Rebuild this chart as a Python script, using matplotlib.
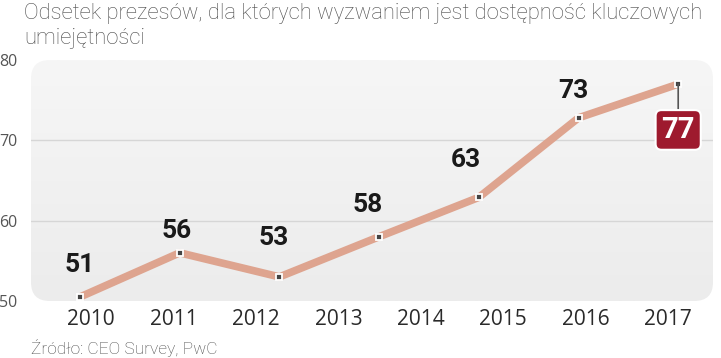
import numpy as np
import matplotlib
matplotlib.use("Agg")
import matplotlib.pyplot as plt
from matplotlib.patches import FancyBboxPatch

# data
years = ["2010", "2011", "2012", "2013", "2014", "2015", "2016", "2017"]
values = [50.5, 56, 53, 58, 62.9, 72.8, 77]
labels = ["51", "56", "53", "58", "63", "73", "77"]
yticks = [50, 60, 70, 80]

title = "Odsetek prezesów, dla których wyzwaniem jest dostępność kluczowych\numiejętności"
source = "Źródło: CEO Survey, PwC"

# label offsets above the points (points)
label_off = [(0, 23), (-2, 16), (-4, 28), (-8, 23), (-9, 27), (-4, 19)]

W, H = 721, 358
fig = plt.figure(figsize=(W / 100, H / 100), dpi=100)
fig.patch.set_facecolor("white")
ax = fig.add_axes([31 / W, 1 - 301 / H, 682 / W, 241 / H])
ax.set_facecolor("none")
x = np.arange(len(values))
ax.set_xlim((31 - 80) / 99.7, (713 - 80) / 99.7)
ax.set_ylim(50, 80)

# rounded gray panel with soft gradient
panel = FancyBboxPatch((31 / W, 1 - 301 / H), 682 / W, 241 / H,
                       boxstyle="round,pad=0,rounding_size=0.026",
                       mutation_aspect=W / H, transform=fig.transFigure,
                       facecolor="none", edgecolor="none", zorder=0)
fig.patches.append(panel)
grad = np.linspace(0, 1, 100).reshape(-1, 1)
im = ax.imshow(grad, cmap=matplotlib.colors.LinearSegmentedColormap.from_list(
    "g", ["#ececec", "#f6f6f6"]), aspect="auto", origin="lower",
    extent=[*ax.get_xlim(), 50, 80], zorder=0)
im.set_clip_path(panel)

for gy in [60, 70]:
    ax.axhline(gy, color="#d6d6d6", lw=1, zorder=1)

for s in ax.spines.values():
    s.set_visible(False)

ax.plot(x, values, color="#dea48f", lw=5.5, solid_capstyle="butt", zorder=3)
ax.plot(x, values, ls="none", marker="s", ms=5, mfc="#444444",
        mec="white", mew=1.3, zorder=4)

vfont = dict(family="Roboto", weight="bold")
for i in range(len(values) - 1):
    ax.annotate(labels[i], (x[i], values[i]), xytext=label_off[i],
                textcoords="offset points", ha="center", va="center",
                fontsize=19, color="#1a1a1a", zorder=5, **vfont)

# highlighted last value
last = len(values) - 1
ax.annotate(labels[last], (x[last], values[last]), xytext=(0, -33),
            textcoords="offset points", ha="center", va="center",
            fontsize=21, color="white", zorder=6,
            bbox=dict(boxstyle="round,pad=0.2,rounding_size=0.2",
                      fc="#9e1a2e", ec="white", lw=1.5),
            arrowprops=dict(arrowstyle="-", color="#555555", lw=1.2,
                            shrinkA=0, shrinkB=0), **vfont)

ax.set_xticks(np.linspace(0.11, 5.9, len(years)))
ax.set_xticklabels(years, fontsize=15, color="#2a2a2a", family="Open Sans")
ax.set_yticks(yticks)
ax.set_yticklabels([str(v) for v in yticks], fontsize=11.5, color="#555555",
                   family="Open Sans")
ax.tick_params(axis="x", length=0, pad=6)
ax.tick_params(axis="y", length=0, pad=10)

fig.text(24 / W, 1 - 3 / H, title, ha="left", va="top", fontsize=15.8,
         color="#4a4a4a", family="Roboto", weight="light",
         linespacing=1.22)
fig.text(31 / W, 1 - 348 / H, source, ha="left", va="center", fontsize=12.5,
         color="#4a4a4a", family="Roboto", weight="light")

fig.savefig("out.png", dpi=100)
